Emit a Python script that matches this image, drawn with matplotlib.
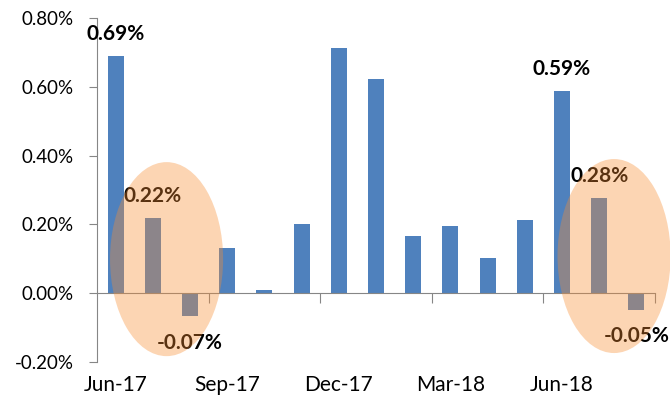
import matplotlib
matplotlib.use('Agg')
import matplotlib.pyplot as plt
from matplotlib.patches import Ellipse
import matplotlib.transforms as mtransforms

# valores mensais (%)
meses = ['Jun-17', 'Jul-17', 'Aug-17', 'Sep-17', 'Oct-17', 'Nov-17', 'Dec-17', 'Jan-18',
         'Feb-18', 'Mar-18', 'Apr-18', 'May-18', 'Jun-18', 'Jul-18', 'Aug-18']
valores = [0.69, 0.218, -0.067, 0.131, 0.009, 0.20, 0.712, 0.622,
           0.166, 0.195, 0.102, 0.212, 0.587, 0.276, -0.049]
rotulos_idx = [0, 1, 2, 12, 13, 14]
yticks = [-0.2, 0.0, 0.2, 0.4, 0.6, 0.8]

plt.rcParams['font.family'] = ['Lato', 'DejaVu Sans']

fig = plt.figure(figsize=(6.7, 4.05), dpi=100)
ax = fig.add_axes([0.1448, 0.1062, 0.8328, 0.8494])

x = list(range(len(meses)))
ax.bar(x, valores, width=0.43, color='#4F81BD', zorder=2)

ax.set_xlim(-0.5, len(meses) - 0.5)
ax.set_ylim(-0.2, 0.8)

# eixos
cinza = '#868686'
for s in ['top', 'right']:
    ax.spines[s].set_visible(False)
ax.spines['bottom'].set_position(('data', 0))
ax.spines['bottom'].set_color(cinza)
ax.spines['left'].set_color(cinza)

ax.set_yticks(yticks)
ax.set_yticklabels([f'{v:.2f}%' for v in yticks])
ax.tick_params(axis='y', length=6, color=cinza, labelsize=13.5, pad=11)

# marcas a cada 3 meses entre categorias
ax.set_xticks([i - 0.5 for i in range(3, len(meses) + 1, 3)])
ax.set_xticklabels([])
ax.tick_params(axis='x', length=7, color=cinza, direction='out')

trans = mtransforms.blended_transform_factory(ax.transData, ax.transAxes)
for i in range(0, len(meses), 3):
    ax.text(i, -0.068, meses[i], transform=trans, ha='center', va='center', fontsize=15)

# rótulos de dados
for i in rotulos_idx:
    v = valores[i]
    off = 16 if v >= 0 else -19
    ax.annotate(f'{v:.2f}%', (i, v), xytext=(0, off), textcoords='offset points',
                ha='center', va='center', fontsize=15, fontweight='bold', zorder=3)

# elipses destacando
for cx, cy in [(1.37, 0.099), (13.4, 0.108)]:
    e = Ellipse((cx, cy), 3.04, 0.564, facecolor='#F78C31', alpha=0.365,
                edgecolor='none', zorder=4, clip_on=False)
    ax.add_patch(e)

plt.savefig('out.png', dpi=100)
plt.close()
